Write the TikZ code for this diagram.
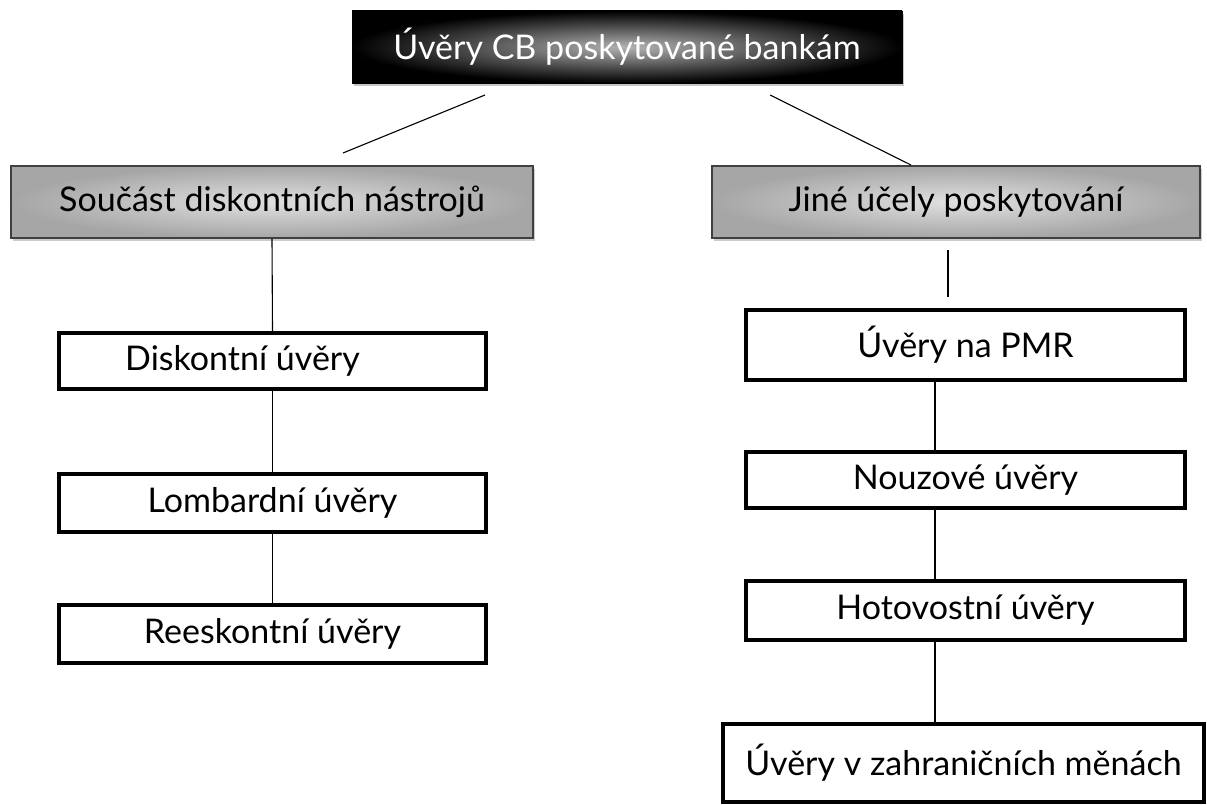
\documentclass[tikz,border=0pt]{standalone}
\usepackage{fontspec}
\setmainfont{Lato}
\usetikzlibrary{shadows}
\tikzset{
  txt/.style={font=\fontsize{34}{38}\selectfont},
  topbox/.style={rectangle, draw=black, line width=0.8pt, inner color=black!30, outer color=black,
    text=white, minimum width=550pt, minimum height=72pt, txt,
    drop shadow={shadow xshift=2pt, shadow yshift=-3pt, opacity=0.45}},
  greybox/.style={rectangle, draw=black!75, line width=1.4pt, inner color=black!12, outer color=black!35,
    text=black, minimum height=72pt, txt,
    drop shadow={shadow xshift=2pt, shadow yshift=-3pt, opacity=0.4}},
  itembox/.style={rectangle, draw=black, line width=3.2pt, fill=white, text=black, txt},
  conn/.style={draw=black, line width=1.1pt}
}
\begin{document}
\begin{tikzpicture}[x=1pt,y=-1pt]
\useasboundingbox (0,0) rectangle (1207,805);
\node[topbox] (top) at (627,47) {Úvěry CB poskytované bankám};
\node[greybox, minimum width=522pt] (gl) at (272,202) {Součást diskontních nástrojů};
\node[greybox, minimum width=488pt] (gr) at (956,202) {Jiné účely poskytování};
\node[itembox, minimum width=427pt, minimum height=56pt,
  label={[txt, xshift=-30pt]center:Diskontní úvěry}] (d1) at (272.5,361) {};
\node[itembox, minimum width=427pt, minimum height=58pt] (d2) at (272.5,503) {Lombardní úvěry};
\node[itembox, minimum width=427pt, minimum height=58pt] (d3) at (272.5,634) {Reeskontní úvěry};
\node[itembox, minimum width=439pt, minimum height=70pt] (r1) at (965.5,345) {Úvěry na PMR};
\node[itembox, minimum width=439pt, minimum height=56pt] (r2) at (965.5,480) {Nouzové úvěry};
\node[itembox, minimum width=439pt, minimum height=59pt] (r3) at (965.5,610.5) {Hotovostní úvěry};
\node[itembox, minimum width=481pt, minimum height=78pt] (r4) at (963.5,763) {Úvěry v zahraničních měnách};
\coordinate (tla) at (485,95);
\coordinate (tlb) at (343,153);
\coordinate (tra) at (770,95);
\coordinate (trb) at (911,165);
\coordinate (gra) at (948,250);
\coordinate (grb) at (948,297);
\draw[conn] (tla) -- (tlb);
\draw[conn] (tra) -- (trb);
\draw[conn] (gl.south) -- (d1.north);
\draw[conn] (d1.south) -- (d2.north);
\draw[conn] (d2.south) -- (d3.north);
\draw[conn] (gra) -- (grb);
\draw[conn] (r1.south -| 935,0) -- (r2.north -| 935,0);
\draw[conn] (r2.south -| 935,0) -- (r3.north -| 935,0);
\draw[conn] (r3.south -| 935,0) -- (r4.north -| 935,0);
\end{tikzpicture}
\end{document}
